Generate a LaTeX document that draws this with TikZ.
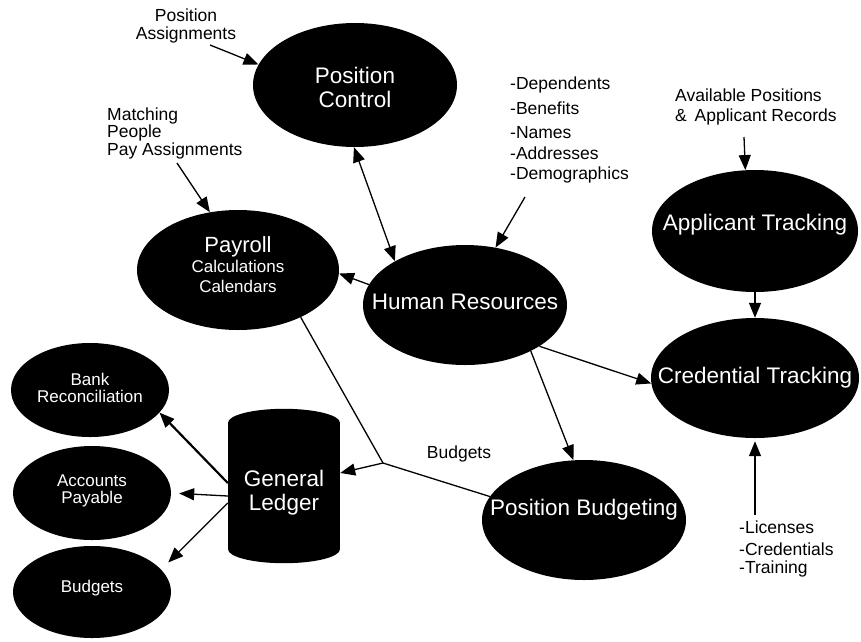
\documentclass[tikz,border=0pt]{standalone}
\usepackage{fontspec}
\setmainfont{Liberation Sans}
\usetikzlibrary{arrows.meta,shapes.geometric,calc,backgrounds}
\begin{document}
\begin{tikzpicture}[x=1pt,y=-1pt,
  >={Triangle[length=15pt,width=12pt]},
  blob/.style={ellipse, fill=black, inner sep=0pt},
  big/.style={font=\fontsize{22.5}{24}\selectfont},
  wt/.style={text=white, align=center},
  lbl/.style={font=\fontsize{17.5}{20}\selectfont, inner sep=0pt},
  con/.style={line width=1.3pt},
]
\path[use as bounding box] (0,0) rectangle (861,641);

% main ellipses
\node[blob, minimum width=204pt, minimum height=124pt,
  label={[wt,big,yshift=-2pt]center:{Position\\Control}}] (pc) at (355,85) {};
\node[blob, minimum width=202pt, minimum height=120pt,
  label={[wt,yshift=5pt,font=\fontsize{17}{20}\selectfont]center:{{\fontsize{22}{23}\selectfont Payroll}\\Calculations\\Calendars}}] (pay) at (238,270) {};
\node[blob, minimum width=204pt, minimum height=120pt,
  label={[wt,big,yshift=3pt]center:Human Resources}] (hr) at (465,305) {};
\node[blob, minimum width=206pt, minimum height=122pt,
  label={[wt,big,yshift=6pt]center:Applicant Tracking}] (at) at (755,231) {};
\node[blob, minimum width=208pt, minimum height=120pt,
  label={[wt,big]center:Credential Tracking}] (ct) at (755,378) {};
\node[blob, minimum width=204pt, minimum height=120pt,
  label={[wt,big,yshift=10pt]center:Position Budgeting}] (pb) at (584,520) {};

% small ellipses
\node[blob, minimum width=158pt, minimum height=94pt,
  label={[wt,yshift=2pt,font=\fontsize{17}{17}\selectfont]center:{Bank\\Reconciliation}}] (bank) at (90,390) {};
\node[blob, minimum width=158pt, minimum height=94pt,
  label={[wt,yshift=2pt,font=\fontsize{17}{16.5}\selectfont]center:{Accounts\\Payable}}] (apay) at (92,493) {};
\node[blob, minimum width=158pt, minimum height=92pt,
  label={[wt,yshift=4pt,font=\fontsize{17}{17}\selectfont]center:Budgets}] (bud) at (92,592) {};

% general ledger cylinder
\node[minimum width=112pt, minimum height=154pt, inner sep=0pt,
  label={[wt,big,yshift=-7pt]center:{General\\Ledger}}] (gl) at (284,486) {};
\begin{scope}[on background layer]
  \fill[black] ($(gl.north west)+(0,14)$) rectangle ($(gl.south east)+(0,-14)$);
  \fill[black] ($(gl.north)+(0,14)$) ellipse [x radius=56, y radius=14];
  \fill[black] ($(gl.south)+(0,-14)$) ellipse [x radius=56, y radius=14];
\end{scope}

% text labels
\node[lbl, align=center, font=\fontsize{17.5}{17.5}\selectfont] (pa) at (186,26) {Position\\Assignments};
\node[lbl, align=left, anchor=west, font=\fontsize{17.5}{17.5}\selectfont] (mp) at (107,133) {Matching\\People\\Pay Assignments};
\node[lbl, align=left, anchor=west] (hrl) at (510,130) {-Dependents\\[5pt]-Benefits\\[4pt]-Names\\[1pt]-Addresses\\-Demographics};
\node[lbl, align=left, anchor=west] (avail) at (675,107) {Available Positions\\\&\ \,Applicant Records};
\node[lbl, align=left, anchor=west] (lic) at (739,549) {-Licenses\\[2pt]-Credentials\\[-2.5pt]-Training};
\node[lbl] (bl) at (459,454) {Budgets};

% connectors
\coordinate (t1) at (210,45);
\coordinate (t2) at (177,163);
\coordinate (t3) at (525,197);
\coordinate (t4) at (744,137);
\coordinate (t5) at (755,515);
\coordinate (j) at (383,463);

\draw[con,->] (t1) -- (pc.168);
\draw[con,->] (t2) -- (pay.116);
\draw[con,<->] (pc.269) -- (hr.148);
\draw[con,->] (hr.168) -- (pay.358);
\draw[con,->] (t3) -- (hr.62);
\draw[con,->] (t4) -- (at.99);
\draw[con,->] (at.south) -- (ct.north);
\draw[con,->] (hr.331) -- (ct.183);
\draw[con,->] (hr.325) -- (pb.100);
\draw[con] (pay.323) -- (j) -- (pb.166);
\draw[con,->] (j) -- (gl);
\draw[line width=2.2pt,->] ($(gl.west)+(0,-3)$) -- (bank.342);
\draw[con,->,shorten >=8pt] ($(gl.west)+(0,10)$) -- (apay.east);
\draw[con,->,shorten >=10pt] ($(gl.west)+(0,17)$) -- (bud.18);
\draw[con,->,shorten >=3pt] (t5) -- (ct.south);
\end{tikzpicture}
\end{document}
